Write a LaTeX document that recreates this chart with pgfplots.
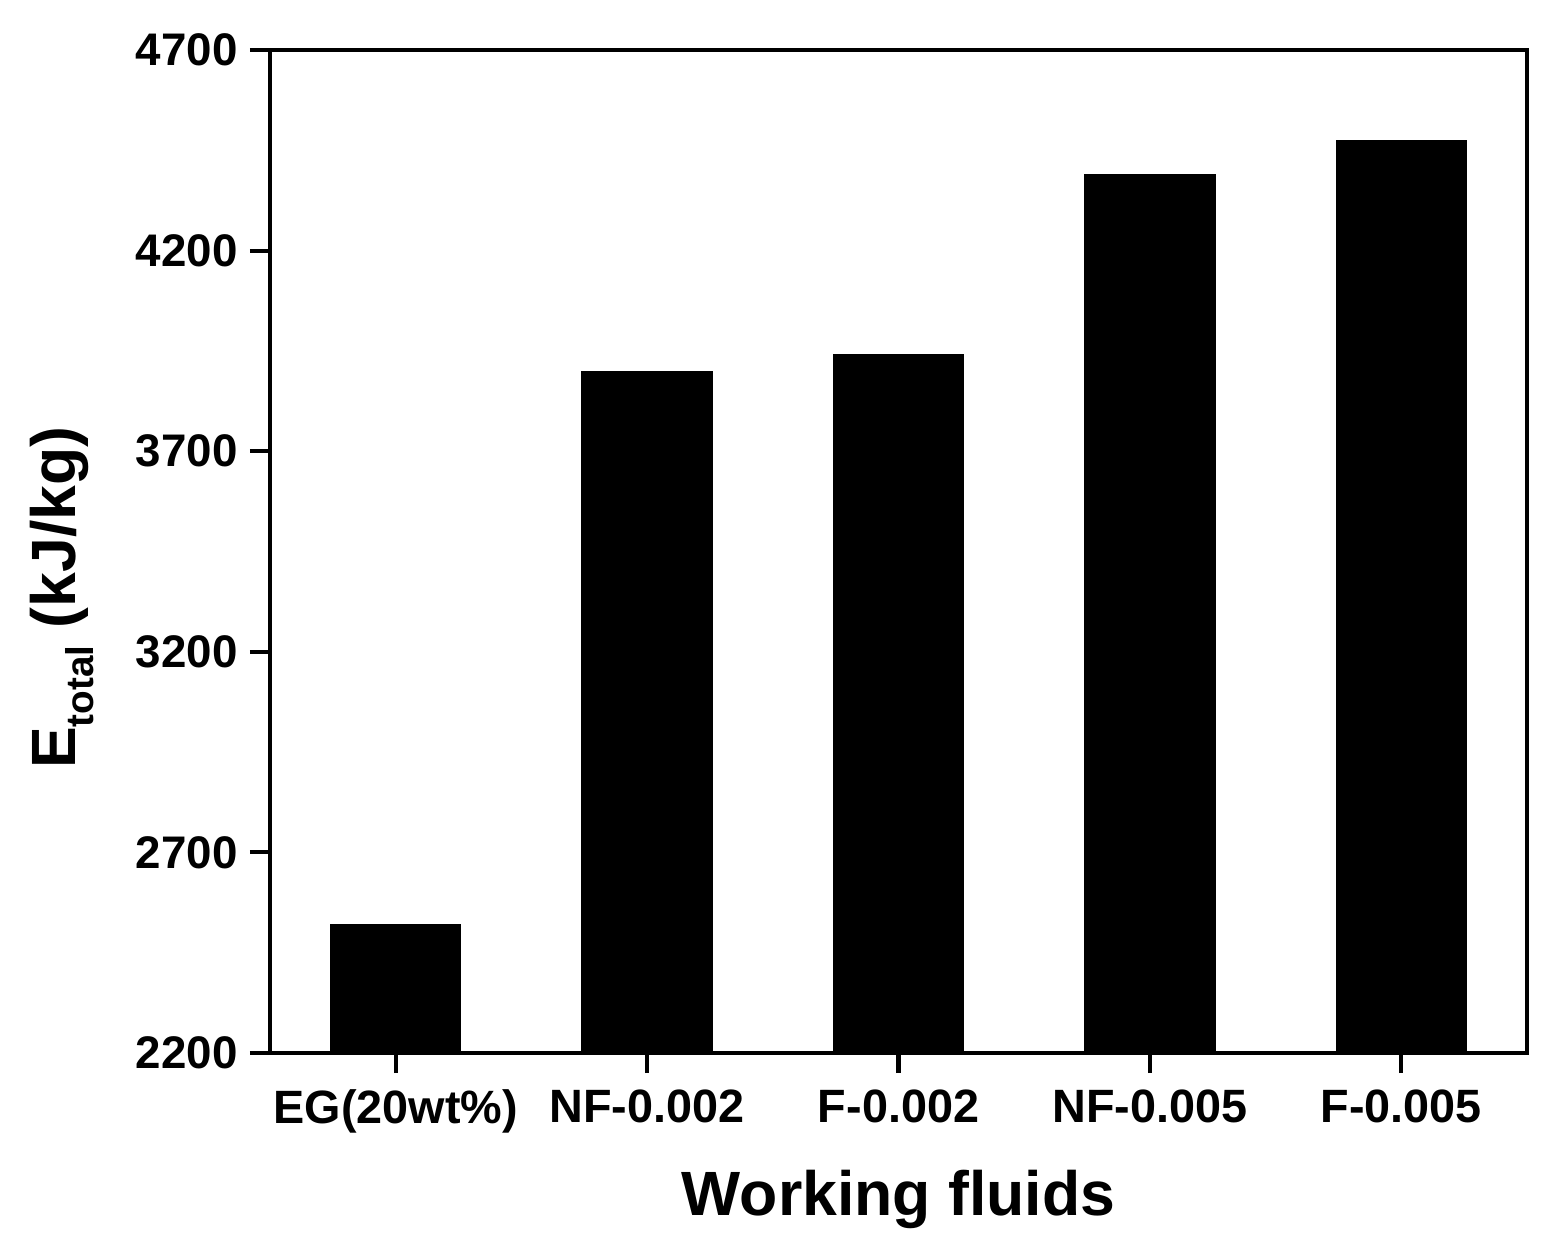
\documentclass[border=0pt]{standalone}
\usepackage{fontspec}
\setmainfont{Liberation Sans}
\usepackage{pgfplots}
\pgfplotsset{compat=1.18}
\begin{document}
\begin{tikzpicture}
\useasboundingbox (-27mm,-20.2mm) rectangle (128.7mm,105.3mm);
\begin{axis}[
  scale only axis, width=125.7mm, height=100.3mm,
  ybar, bar width=13mm,
  xmin=-0.5, xmax=4.5, ymin=2200, ymax=4700,
  xtick=data,
  xticklabels={EG(20wt\%), NF-0.002, F-0.002, NF-0.005, F-0.005},
  ytick={2200,2700,3200,3700,4200,4700},
  axis line style={line width=1.15pt},
  every tick/.style={line width=1.15pt, black},
  major tick length=2mm,
  tick align=outside,
  xtick pos=bottom, ytick pos=left,
  minor tick num=0,
  /pgf/number format/assume math mode=true,
  /pgf/number format/1000 sep={},
  tick label style={font=\fontsize{13}{15}\selectfont\bfseries},
  xticklabel style={font=\fontsize{13.3}{15}\selectfont\bfseries, yshift=-0.4mm},
  xlabel={Working fluids},
  ylabel={E{\fontsize{11}{12}\selectfont\raisebox{-0.9ex}{total}} (kJ/kg)},
  label style={font=\fontsize{17.8}{20}\selectfont\bfseries},
  xlabel style={at={(rel axis cs:0.5,-0.1615)}, anchor=base},
  ylabel style={at={(rel axis cs:-0.1655,0.454)}, anchor=center},
]
\addplot[draw=black, fill=black] coordinates {
  (0,2519) (1,3897) (2,3940) (3,4388) (4,4473)
};
\end{axis}
\end{tikzpicture}
\end{document}
